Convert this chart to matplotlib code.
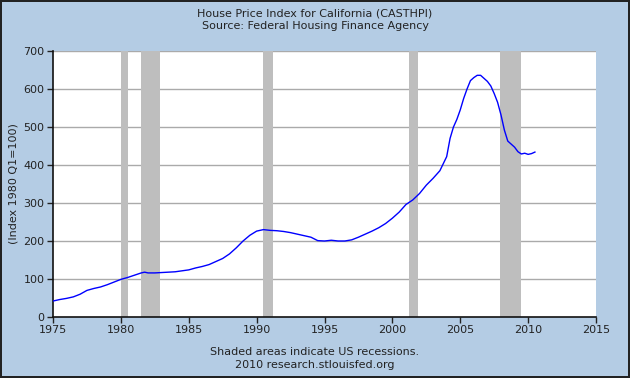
import numpy as np
from matplotlib import pyplot as plt

# quarterly-ish readings of the CA house price index (1980 Q1 = 100)
years = [1975.0, 1975.5, 1976.0, 1976.5, 1977.0, 1977.5, 1978.0, 1978.5, 1979.0, 1979.5,
         1980.0, 1980.5, 1981.0, 1981.5, 1981.75, 1982.0, 1982.5, 1983.0, 1984.0, 1985.0,
         1985.5, 1986.0, 1986.5, 1987.0, 1987.5, 1988.0, 1988.5, 1989.0, 1989.5, 1990.0,
         1990.5, 1991.0, 1991.5, 1992.0, 1992.5, 1993.0, 1993.5, 1994.0, 1994.5, 1995.0,
         1995.5, 1996.0, 1996.5, 1997.0, 1997.5, 1998.0, 1998.5, 1999.0, 1999.5, 2000.0,
         2000.5, 2001.0, 2001.5, 2002.0, 2002.5, 2003.0, 2003.5, 2004.0, 2004.25, 2004.5,
         2004.75, 2005.0, 2005.25, 2005.5, 2005.75, 2006.0, 2006.25, 2006.5, 2006.75, 2007.0,
         2007.25, 2007.5, 2007.75, 2008.0, 2008.25, 2008.5, 2008.75, 2009.0, 2009.25, 2009.5,
         2009.75, 2010.0, 2010.25, 2010.5]
hpi = [42, 46, 49, 53, 60, 70, 75, 79, 85, 92,
       99, 104, 110, 116, 118, 116, 116, 117, 119, 124,
       129, 133, 138, 146, 154, 166, 182, 200, 215, 226,
       230, 228, 227, 225, 222, 218, 214, 210, 201, 200,
       202, 200, 200, 203, 210, 218, 226, 235, 246, 260,
       276, 296, 308, 325, 347, 365, 385, 422, 470, 500,
       520, 545, 575, 600, 622, 630, 636, 636, 628, 620,
       608, 588, 565, 532, 492, 463, 455, 447, 435, 429,
       431, 428, 430, 434]

rec_start = [1980.0, 1981.5, 1990.5, 2001.2, 2007.9]
rec_end = [1980.5, 1982.9, 1991.2, 2001.9, 2009.5]

bg = '#b4cce4'
fig = plt.figure(figsize=(6.3, 3.78), dpi=100, facecolor=bg,
                 edgecolor='#222222', linewidth=1.5)
ax = fig.add_axes([53/630, 1-317/378, 543/630, 266/378])
ax.set_facecolor('white')

for s, e in zip(rec_start, rec_end):
    ax.axvspan(s, e, color='#bebebe', lw=0, zorder=1)

for v in range(100, 701, 100):
    ax.axhline(v, color='#aaaaaa', lw=1, zorder=0.5)

ax.plot(years, hpi, color='#0000ff', lw=1, zorder=3)

ax.set_xlim(1975, 2015)
ax.set_ylim(0, 700)
ax.set_xticks(range(1975, 2016, 5))
ax.set_yticks(range(0, 701, 100))
ax.tick_params(labelsize=8, colors='#222222', length=4, width=1, direction='out', pad=2)
for side in ['top', 'right']:
    ax.spines[side].set_visible(False)
for side in ['left', 'bottom']:
    ax.spines[side].set_color('#111111')
    ax.spines[side].set_linewidth(1.2)
ax.set_ylabel('(Index 1980 Q1=100)', fontsize=8, color='#222222')
ax.yaxis.set_label_coords(-35/543, 0.5)

fig.text(0.5, 1-13/378, 'House Price Index for California (CASTHPI)', ha='center', va='center',
         fontsize=8, color='#222222')
fig.text(0.5, 1-26/378, 'Source: Federal Housing Finance Agency', ha='center', va='center',
         fontsize=8, color='#222222')
fig.text(0.5, 1-352/378, 'Shaded areas indicate US recessions.', ha='center', va='center',
         fontsize=8, color='#222222')
fig.text(0.5, 1-365/378, '2010 research.stlouisfed.org', ha='center', va='center',
         fontsize=8, color='#222222')

fig.savefig('out.png', dpi=100, facecolor=bg, edgecolor='#222222')
